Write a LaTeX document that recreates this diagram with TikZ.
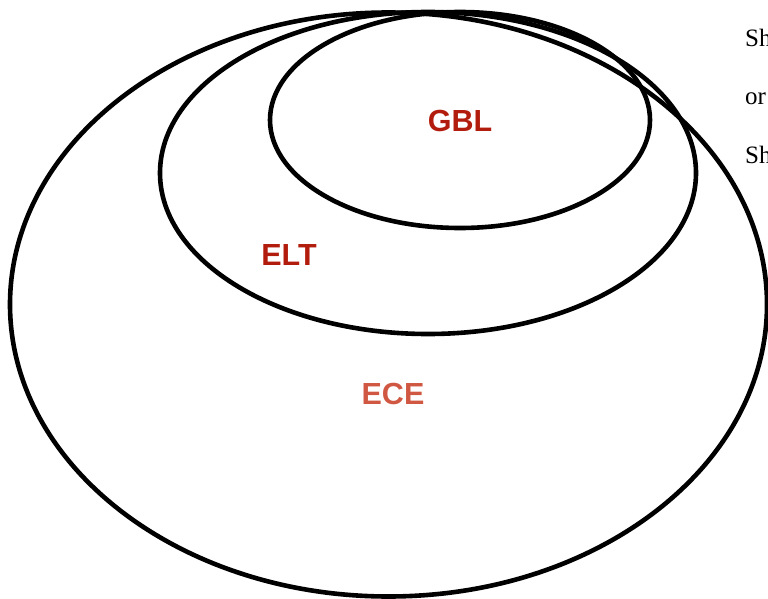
\documentclass[tikz,border=0pt]{standalone}
\usepackage{fontspec}
\setmainfont{Liberation Serif}
\newfontfamily\labelfont{Liberation Sans}
\begin{document}
\begin{tikzpicture}[x=1pt,y=-1pt,
  ring/.style={draw=black,line width=4.6pt},
  setlabel/.style={font=\labelfont\bfseries\fontsize{30.5}{33}\selectfont},
  sidetext/.style={font=\fontsize{25}{28}\selectfont,anchor=base west,inner sep=0pt}]
\definecolor{darkred}{RGB}{178,28,12}
\definecolor{lightred}{RGB}{208,88,66}
\useasboundingbox (0,0) rectangle (768,599);
\clip (0,0) rectangle (768,599);
\draw[ring] (388.5,304.5) ellipse [x radius=378.5, y radius=292];
\draw[ring] (428,173) ellipse [x radius=268, y radius=161];
\draw[ring] (460,120) ellipse [x radius=190, y radius=108];
\node[setlabel,text=darkred] (gbl) at (460,121) {GBL};
\node[setlabel,text=darkred] (elt) at (289,255) {ELT};
\node[setlabel,text=lightred] (ece) at (393,394) {ECE};
\node[sidetext] (t1) at (745,47) {Sh};
\node[sidetext] (t2) at (745,105) {or};
\node[sidetext] (t3) at (745,163) {Sh};
\end{tikzpicture}
\end{document}
